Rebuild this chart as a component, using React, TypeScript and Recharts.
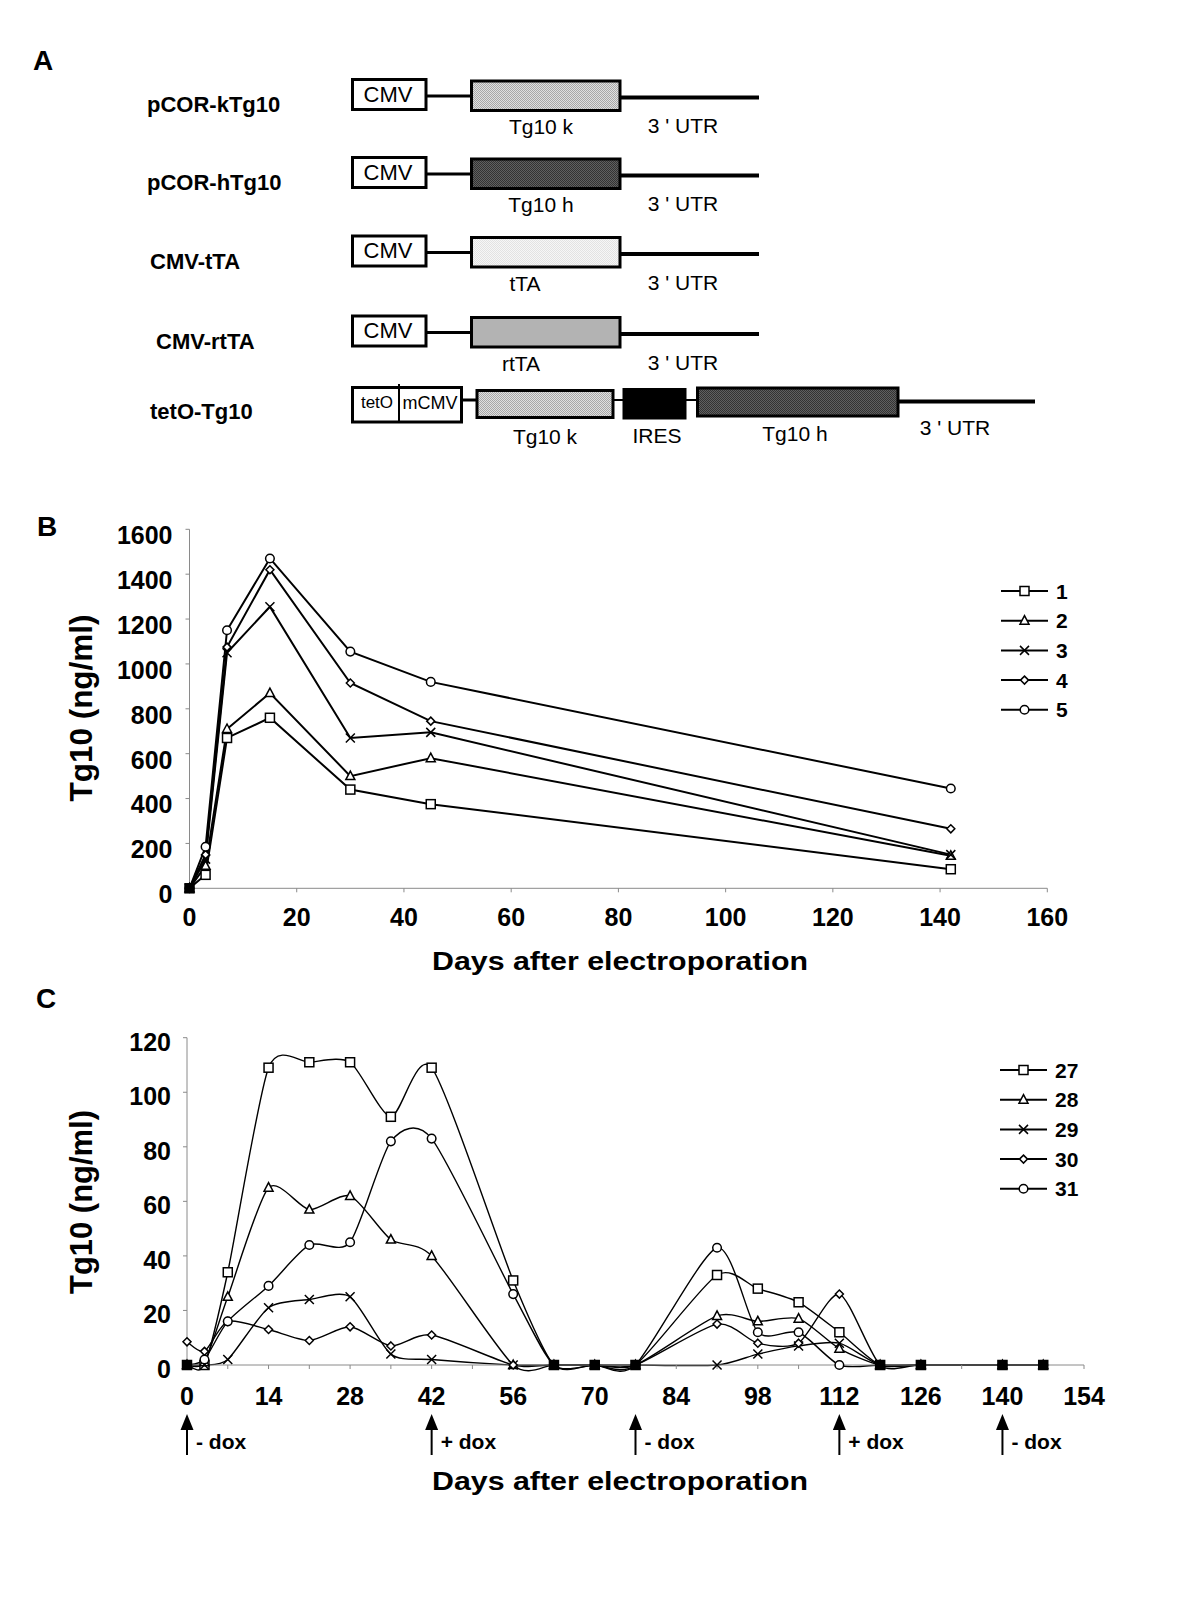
import React from 'react';
import { LineChart, Line, XAxis, YAxis } from 'recharts';

const FONT = 'Arial, "Liberation Sans", Helvetica, sans-serif';

// ---- Panel B: days after electroporation, 5 mice (ng/ml)
const daysB = [0, 3, 7, 15, 30, 45, 142];
const mouse1 = [0, 60, 670, 760, 440, 375, 85];
const mouse2 = [0, 100, 710, 870, 500, 580, 145];
const mouse3 = [0, 130, 1050, 1255, 670, 695, 150];
const mouse4 = [0, 150, 1075, 1420, 915, 745, 265];
const mouse5 = [0, 185, 1150, 1470, 1055, 920, 445];
const namesB = ['1', '2', '3', '4', '5'];
const yTicksB = [0, 200, 400, 600, 800, 1000, 1200, 1400, 1600];
const xTicksB = [0, 20, 40, 60, 80, 100, 120, 140, 160];

// ---- Panel C: dox switching, 5 mice (ng/ml)
const daysC = [0, 3, 7, 14, 21, 28, 35, 42, 56, 63, 70, 77, 91, 98, 105, 112, 119, 126, 140, 147];
const mouse27 = [0, 0, 34, 109, 111, 111, 91, 109, 31, 0, 0, 0, 33, 28, 23, 12, 0, 0, 0, 0];
const mouse28 = [0, 1, 25, 65, 57, 62, 46, 40, 0, 0, 0, 0, 18, 16, 17, 6, 0, 0, 0, 0];
const mouse29 = [0, 0, 2, 21, 24, 25, 4, 2, 0, 0, 0, 0, 0, 4, 7, 8, 0, 0, 0, 0];
const mouse30 = [8.5, 5, 16, 13, 9, 14, 7, 11, 0, 0, 0, 0, 15, 8, 8, 26, 0, 0, 0, 0];
const mouse31 = [0, 2, 16, 29, 44, 45, 82, 83, 26, 0, 0, 0, 43, 12, 12, 0, 0, 0, 0, 0];
const namesC = ['27', '28', '29', '30', '31'];
const yTicksC = [0, 20, 40, 60, 80, 100, 120];
const xTicksC = [0, 7, 14, 21, 28, 35, 42, 49, 56, 63, 70, 77, 84, 91, 98, 105, 112, 119, 126, 133, 140, 147, 154];
const doxDays = [0, 42, 77, 112, 140];
const doxLabels = ['- dox', '+ dox', '- dox', '+ dox', '- dox'];

type Shape = 'square' | 'triangle' | 'cross' | 'diamond' | 'circle';
const shapes: Shape[] = ['square', 'triangle', 'cross', 'diamond', 'circle'];

const valuesB = [mouse1, mouse2, mouse3, mouse4, mouse5];
const valuesC = [mouse27, mouse28, mouse29, mouse30, mouse31];

const dataB = daysB.map((day, i) => {
  const row: Record<string, number> = { day };
  valuesB.forEach((v, s) => (row['s' + s] = v[i]));
  return row;
});
const dataC = daysC.map((day, i) => {
  const row: Record<string, number> = { day };
  valuesC.forEach((v, s) => (row['s' + s] = v[i]));
  return row;
});

// Excel-like smoothed line: cubic Bezier through the points, mild tension
const SMOOTH = 0.12;
const excelSmooth = (context: any) => {
  let pts: [number, number][] = [];
  return {
    areaStart() {},
    areaEnd() {},
    lineStart() {
      pts = [];
    },
    lineEnd() {
      if (!pts.length) return;
      context.moveTo(pts[0][0], pts[0][1]);
      for (let i = 0; i < pts.length - 1; i++) {
        const p0 = pts[Math.max(i - 1, 0)];
        const p1 = pts[i];
        const p2 = pts[i + 1];
        const p3 = pts[Math.min(i + 2, pts.length - 1)];
        context.bezierCurveTo(
          p1[0] + (p2[0] - p0[0]) * SMOOTH,
          p1[1] + (p2[1] - p0[1]) * SMOOTH,
          p2[0] - (p3[0] - p1[0]) * SMOOTH,
          p2[1] - (p3[1] - p1[1]) * SMOOTH,
          p2[0],
          p2[1]
        );
      }
    },
    point(x: number, y: number) {
      pts.push([x, y]);
    },
  };
};

const Marker = ({ shape, cx, cy, fill }: { shape: Shape; cx: number; cy: number; fill: string }) => {
  const sw = 1.5;
  switch (shape) {
    case 'square':
      return <rect x={cx - 4.5} y={cy - 4.5} width={9} height={9} fill={fill} stroke="#000" strokeWidth={sw} />;
    case 'triangle':
      return (
        <path
          d={`M${cx},${cy - 5}L${cx + 4.5},${cy + 3.5}L${cx - 4.5},${cy + 3.5}Z`}
          fill={fill}
          stroke="#000"
          strokeWidth={sw}
        />
      );
    case 'cross':
      return (
        <path
          d={`M${cx - 4.5},${cy - 4.5}L${cx + 4.5},${cy + 4.5}M${cx - 4.5},${cy + 4.5}L${cx + 4.5},${cy - 4.5}`}
          stroke="#000"
          strokeWidth={sw}
        />
      );
    case 'diamond':
      return (
        <path
          d={`M${cx},${cy - 4}L${cx + 4},${cy}L${cx},${cy + 4}L${cx - 4},${cy}Z`}
          fill={fill}
          stroke="#000"
          strokeWidth={sw}
        />
      );
    default:
      return <circle cx={cx} cy={cy} r={4.3} fill={fill} stroke="#000" strokeWidth={sw} />;
  }
};

// markers where most series sit on top of each other look solid black
const dotFor = (shape: Shape, values: number[][]) => (props: any) => {
  const { cx, cy, index } = props;
  const v = values[shapes.indexOf(shape)][index];
  const same = values.filter((s) => s[index] === v).length;
  return (
    <Marker key={`${shape}-${index}`} shape={shape} cx={cx} cy={cy} fill={same >= 4 ? '#000' : '#fff'} />
  );
};

const tickFont = { fill: '#000', fontSize: 25, fontWeight: 'bold', fontFamily: FONT };

const CXTick = (props: any) => {
  const { x, y, payload } = props;
  if (payload.value % 14 !== 0) return <g />;
  return (
    <text x={x} y={y} dy="0.71em" textAnchor="middle" {...tickFont}>
      {payload.value}
    </text>
  );
};

const DoxTick = (props: any) => {
  const { x, y, payload } = props;
  const label = doxLabels[doxDays.indexOf(payload.value)];
  return (
    <g>
      <line x1={x} y1={y + 26} x2={x} y2={y + 55} stroke="#000" strokeWidth={2} />
      <path d={`M${x},${y + 14}L${x + 6.5},${y + 30}L${x - 6.5},${y + 30}Z`} fill="#000" />
      <text x={x + 9} y={y + 49} fontSize={21} fontWeight="bold" fontFamily={FONT} fill="#000">
        {label}
      </text>
    </g>
  );
};

const LegendBox = ({ names, left, top }: { names: string[]; left: number; top: number }) => (
  <svg style={{ position: 'absolute', left, top }} width={90} height={160}>
    {names.map((n, i) => {
      const y = 10 + i * 29.7;
      return (
        <g key={n}>
          <line x1={1} x2={48} y1={y} y2={y} stroke="#000" strokeWidth={2} />
          <Marker shape={shapes[i]} cx={24.5} cy={y} fill="#fff" />
          <text x={56} y={y + 7.5} fontSize={21} fontWeight="bold" fontFamily={FONT} fill="#000">
            {n}
          </text>
        </g>
      );
    })}
  </svg>
);

const constructs = [
  { label: 'pCOR-kTg10', lx: 147, top: 78, gene: 'Tg10 k', gx: 541, fill: 'url(#halftoneK)' },
  { label: 'pCOR-hTg10', lx: 147, top: 156, gene: 'Tg10 h', gx: 541, fill: 'url(#halftoneH)' },
  { label: 'CMV-tTA', lx: 150, top: 234.5, gene: 'tTA', gx: 525, fill: 'url(#halftoneT)' },
  { label: 'CMV-rtTA', lx: 156, top: 314.5, gene: 'rtTA', gx: 521, fill: '#b3b3b3' },
];

const Halftone = ({ id, base, dot }: { id: string; base: string; dot: string }) => (
  <pattern id={id} width={2} height={2} patternUnits="userSpaceOnUse">
    <rect width={2} height={2} fill={base} />
    <rect width={1} height={1} fill={dot} />
    <rect x={1} y={1} width={1} height={1} fill={dot} />
  </pattern>
);

const PanelA = () => (
  <g fontFamily={FONT} fill="#000">
    <defs>
      <Halftone id="halftoneK" base="#e0e0e0" dot="#a8a8a8" />
      <Halftone id="halftoneH" base="#606060" dot="#333333" />
      <Halftone id="halftoneT" base="#f6f6f6" dot="#e2e2e2" />
    </defs>
    {constructs.map((c) => (
      <g key={c.label}>
        <text x={c.lx} y={c.top + 34} fontSize={22} fontWeight="bold">
          {c.label}
        </text>
        <rect x={352.5} y={c.top + 1.5} width={73.5} height={30} fill="#fff" stroke="#000" strokeWidth={3} />
        <text x={388} y={c.top + 23.5} fontSize={22} textAnchor="middle">
          CMV
        </text>
        <line x1={427} x2={471} y1={c.top + 18} y2={c.top + 18} stroke="#000" strokeWidth={3} />
        <rect x={471.5} y={c.top + 3} width={148.5} height={29.5} fill={c.fill} stroke="#000" strokeWidth={3} />
        <line x1={620} x2={759} y1={c.top + 19.5} y2={c.top + 19.5} stroke="#000" strokeWidth={4} />
        <text x={c.gx} y={c.top + 56} fontSize={21} textAnchor="middle">
          {c.gene}
        </text>
        <text x={683} y={c.top + 55} fontSize={21} textAnchor="middle">
          3 ' UTR
        </text>
      </g>
    ))}
    <text x={150} y={419} fontSize={22} fontWeight="bold">
      tetO-Tg10
    </text>
    <rect x={352.5} y={387.5} width={109} height={34.5} fill="#fff" stroke="#000" strokeWidth={3} />
    <line x1={399} x2={399} y1={384} y2={422} stroke="#000" strokeWidth={2} />
    <text x={377} y={408} fontSize={17} textAnchor="middle">
      tetO
    </text>
    <text x={430} y={409} fontSize={18} textAnchor="middle">
      mCMV
    </text>
    <line x1={462} x2={477} y1={400} y2={400} stroke="#000" strokeWidth={3} />
    <rect x={477} y={390.5} width={136} height={27} fill="url(#halftoneK)" stroke="#000" strokeWidth={3} />
    <line x1={613} x2={624} y1={400} y2={400} stroke="#000" strokeWidth={2} />
    <rect x={624} y={389.5} width={61} height={28.5} fill="#000" stroke="#000" strokeWidth={3} />
    <line x1={685} x2={697} y1={400} y2={400} stroke="#000" strokeWidth={2} />
    <rect x={697.5} y={388} width={200.5} height={28} fill="url(#halftoneH)" stroke="#000" strokeWidth={3} />
    <line x1={898} x2={1035} y1={401.5} y2={401.5} stroke="#000" strokeWidth={4} />
    <text x={545} y={444} fontSize={21} textAnchor="middle">
      Tg10 k
    </text>
    <text x={657} y={443} fontSize={21} textAnchor="middle">
      IRES
    </text>
    <text x={795} y={441} fontSize={21} textAnchor="middle">
      Tg10 h
    </text>
    <text x={955} y={435} fontSize={21} textAnchor="middle">
      3 ' UTR
    </text>
  </g>
);

const App = () => (
  <div
    style={{
      position: 'absolute',
      left: 0,
      top: 0,
      width: 1200,
      height: 1600,
      background: '#fff',
      fontFamily: FONT,
      overflow: 'hidden',
    }}
  >
    {/* Panel B */}
    <div style={{ position: 'absolute', left: 0, top: 500 }}>
      <LineChart width={1200} height={440} data={dataB} margin={{ top: 29.3, right: 152.7, bottom: 1.7, left: 109.5 }}>
        <XAxis
          dataKey="day"
          type="number"
          domain={[0, 160]}
          ticks={xTicksB}
          interval={0}
          height={50}
          tickSize={4}
          tickMargin={16}
          axisLine={{ stroke: '#8a8a8a' }}
          tickLine={{ stroke: '#8a8a8a' }}
          tick={tickFont}
        />
        <YAxis
          type="number"
          domain={[0, 1600]}
          ticks={yTicksB}
          interval={0}
          width={80}
          tickSize={4}
          tickMargin={13}
          axisLine={{ stroke: '#8a8a8a' }}
          tickLine={{ stroke: '#8a8a8a' }}
          tick={{ ...tickFont, dy: 6 }}
        />
        {namesB.map((n, i) => (
          <Line
            key={n}
            type="linear"
            dataKey={'s' + i}
            stroke="#000"
            strokeWidth={2}
            dot={dotFor(shapes[i], valuesB)}
            activeDot={false}
            isAnimationActive={false}
          />
        ))}
      </LineChart>
    </div>
    <LegendBox names={namesB} left={1000} top={581} />

    {/* Panel C */}
    <div style={{ position: 'absolute', left: 0, top: 1000 }}>
      <LineChart width={1200} height={500} data={dataC} margin={{ top: 37.7, right: 116, bottom: 5, left: 107 }}>
        <XAxis
          xAxisId="a-main"
          dataKey="day"
          type="number"
          domain={[0, 154]}
          ticks={xTicksC}
          interval={0}
          height={35}
          tickSize={4}
          tickMargin={18}
          axisLine={{ stroke: '#8a8a8a' }}
          tickLine={{ stroke: '#8a8a8a' }}
          tick={CXTick}
        />
        <XAxis
          xAxisId="b-dox"
          dataKey="day"
          type="number"
          domain={[0, 154]}
          ticks={doxDays}
          interval={0}
          height={95}
          tickSize={0}
          tickMargin={0}
          axisLine={false}
          tickLine={false}
          allowDataOverflow
          tick={DoxTick}
        />
        <YAxis
          type="number"
          domain={[0, 120]}
          ticks={yTicksC}
          interval={0}
          width={80}
          tickSize={4}
          tickMargin={12}
          axisLine={{ stroke: '#8a8a8a' }}
          tickLine={{ stroke: '#8a8a8a' }}
          tick={{ ...tickFont, dy: 4 }}
        />
        {namesC.map((n, i) => (
          <Line
            key={n}
            xAxisId="a-main"
            type={excelSmooth as any}
            dataKey={'s' + i}
            stroke="#000"
            strokeWidth={1.4}
            dot={dotFor(shapes[i], valuesC)}
            activeDot={false}
            isAnimationActive={false}
          />
        ))}
      </LineChart>
    </div>
    <LegendBox names={namesC} left={999} top={1060} />

    {/* diagram, panel letters and axis titles */}
    <svg
      style={{ position: 'absolute', left: 0, top: 0, pointerEvents: 'none' }}
      width={1200}
      height={1600}
    >
      <PanelA />
      <g fontFamily={FONT} fontWeight="bold" fill="#000">
        <text x={33} y={70} fontSize={28}>
          A
        </text>
        <text x={37} y={536} fontSize={28}>
          B
        </text>
        <text x={36} y={1008} fontSize={28}>
          C
        </text>
        <text x={432} y={970} fontSize={26} textLength={376} lengthAdjust="spacingAndGlyphs">
          Days after electroporation
        </text>
        <text x={432} y={1490} fontSize={26} textLength={376} lengthAdjust="spacingAndGlyphs">
          Days after electroporation
        </text>
        <text
          x={92}
          y={708}
          fontSize={31}
          textAnchor="middle"
          transform="rotate(-90, 92, 708)"
          textLength={187}
          lengthAdjust="spacingAndGlyphs"
        >
          Tg10 (ng/ml)
        </text>
        <text
          x={92}
          y={1202}
          fontSize={31}
          textAnchor="middle"
          transform="rotate(-90, 92, 1202)"
          textLength={184}
          lengthAdjust="spacingAndGlyphs"
        >
          Tg10 (ng/ml)
        </text>
      </g>
    </svg>
  </div>
);

export default App;
